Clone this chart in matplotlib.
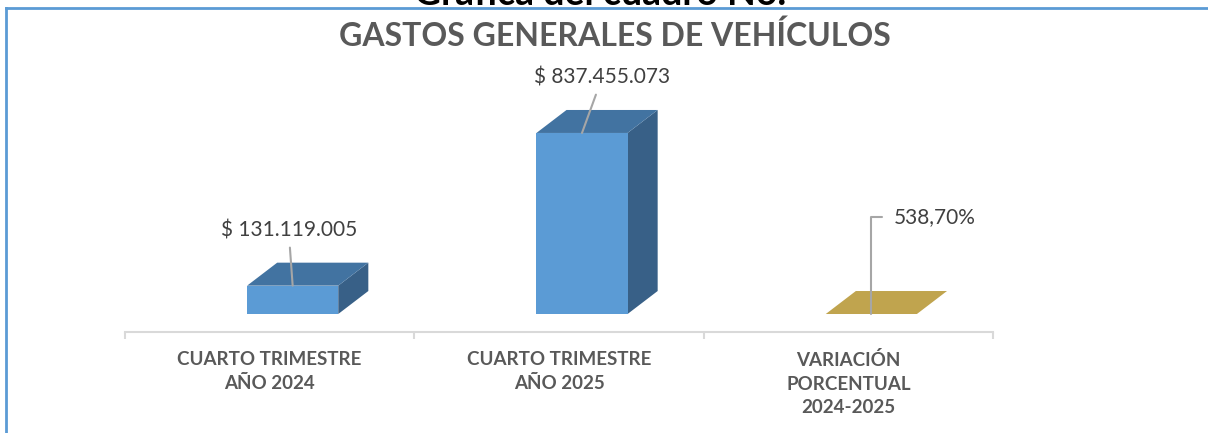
import matplotlib.pyplot as plt
from matplotlib.lines import Line2D

# data
categories = ["CUARTO TRIMESTRE\nAÑO 2024", "CUARTO TRIMESTRE\nAÑO 2025",
              "VARIACIÓN\nPORCENTUAL\n2024-2025"]
values = [131119005, 837455073, 538.70]
is_percent = [False, False, True]
bar_colors = ["#5B9BD5", "#5B9BD5", "#C0A44E"]
top_colors = ["#4273A1", "#4273A1", "#C0A44E"]
side_colors = ["#386087", "#386087", "#A88F40"]

plt.rcParams['font.family'] = ['Lato', 'DejaVu Sans']

fig = plt.figure(figsize=(12.08, 4.33), dpi=100)
ax = fig.add_axes([125 / 1208, 101 / 433, 868 / 1208, 272 / 433])

vmax = max(values)
ax.set_xlim(-0.5, 2.5)
ax.set_ylim(-0.0994 * vmax, 1.403 * vmax)

# fake 3d geometry (front face offsets and depth)
fl, fr = -0.078, 0.237
dx, dy = 0.104, 0.127 * vmax

for i, v in enumerate(values):
    x0, x1 = i + fl, i + fr
    ax.fill([x1, x1 + dx, x1 + dx, x1], [0, dy, v + dy, v],
            color=side_colors[i], lw=0, zorder=2)
    ax.fill([x0, x1, x1 + dx, x0 + dx], [v, v, v + dy, v + dy],
            color=top_colors[i], lw=0, zorder=3)
    ax.fill([x0, x1, x1, x0], [0, 0, v, v], color=bar_colors[i], lw=0, zorder=4)

    xm = i + (fl + fr) / 2
    if is_percent[i]:
        txt = f"{v:.2f}%".replace('.', ',')
        ax.annotate(txt, xy=(xm, v), xytext=(22, 97), textcoords='offset pixels',
                    ha='left', va='center', fontsize=15, color='#404040',
                    arrowprops=dict(arrowstyle='-', color='#A6A6A6', lw=1.5,
                                    connectionstyle='angle,angleA=0,angleB=90,rad=0',
                                    relpos=(0, 0.5), shrinkA=6, shrinkB=0),
                    zorder=6)
    else:
        txt = "$ " + f"{v:,.0f}".replace(',', '.')
        off_x = 20 if v == vmax else -4
        ax.annotate(txt, xy=(xm, v), xytext=(off_x, 55), textcoords='offset pixels',
                    ha='center', va='center', fontsize=15, color='#404040',
                    arrowprops=dict(arrowstyle='-', color='#A6A6A6', lw=1.5,
                                    shrinkA=3, shrinkB=0),
                    zorder=6)

# axis styling
for s in ['top', 'left', 'right']:
    ax.spines[s].set_visible(False)
ax.spines['bottom'].set_color('#D9D9D9')
ax.spines['bottom'].set_linewidth(1.5)
ax.set_yticks([])
ax.set_xticks(range(len(categories)))
ax.set_xticklabels(categories, fontsize=13.5, fontweight='bold', color='#595959',
                   linespacing=1.45)
ax.set_xticks([-0.5, 0.5, 1.5, 2.5], minor=True)
ax.tick_params(axis='x', which='major', length=0, pad=14)
ax.tick_params(axis='x', which='minor', length=5, width=1.5, color='#D9D9D9')
ax.patch.set_alpha(0)

# titles
fig.text(615 / 1208, 1 - 36 / 433, "GASTOS GENERALES DE VEHÍCULOS",
         ha='center', va='center', fontsize=23, fontweight='bold', color='#595959')
# heading of the page above the chart, cut by the crop
fig.text(600 / 1208, 1 - 5 / 433, "Gráfica del cuadro No.",
         ha='center', va='baseline', fontsize=27, fontweight='bold', color='black')

# blue frame
fig.add_artist(Line2D([6 / 1208, 1], [1 - 8 / 433, 1 - 8 / 433],
                      transform=fig.transFigure, color='#5B9BD5', lw=2))
fig.add_artist(Line2D([6 / 1208, 6 / 1208], [0, 1 - 8 / 433],
                      transform=fig.transFigure, color='#5B9BD5', lw=2))

fig.savefig("out.png", dpi=100)
